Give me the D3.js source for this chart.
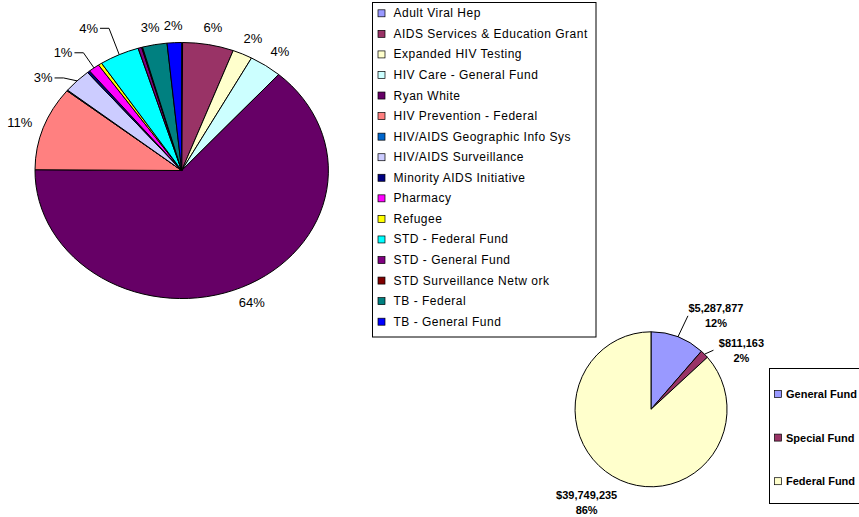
<!DOCTYPE html>
<html><head><meta charset="utf-8">
<script src="https://cdn.jsdelivr.net/npm/d3@7"></script>
<style>body{margin:0;background:#fff}svg{display:block}text{font-family:Arial,"Liberation Sans",sans-serif;fill:#000}</style>
</head><body><svg id="c" width="859" height="517"></svg>
<script>
// ---- data: program budget shares (percent of total) ----
const categories = [
  "Adult Viral Hep","AIDS Services & Education Grant","Expanded HIV Testing","HIV Care - General Fund",
  "Ryan White","HIV Prevention - Federal","HIV/AIDS Geographic Info Sys","HIV/AIDS Surveillance",
  "Minority AIDS Initiative","Pharmacy","Refugee","STD - Federal Fund","STD - General Fund",
  "STD Surveillance Netw ork","TB - Federal","TB - General Fund"
];
const shares = [0.1, 5.6, 2.2, 3.6, 63.6, 10.6, 0.1, 3.1, 0.3, 1.2, 0.4, 4.4, 0.4, 0.1, 2.7, 1.6];
const sliceColors = ["#9999FF","#993366","#FFFFCC","#CCFFFF","#660066","#FF8080","#0066CC","#CCCCFF",
  "#000080","#FF00FF","#FFFF00","#00FFFF","#800080","#800000","#008080","#0000FF"];

// ---- data: funding sources ----
const fundNames = ["General Fund","Special Fund","Federal Fund"];
const fundValues = [5287877, 811163, 39749235];
const fundPctLabels = ["12%","2%","86%"];
const fundColors = ["#9999FF","#993366","#FFFFCC"];

const svg = d3.select("#c");
svg.append("rect").attr("width",859).attr("height",517).attr("fill","#fff");

const pie = d3.pie().sort(null).value(d => d);
const unitArc = d3.arc().innerRadius(0).outerRadius(1);
const mid = d => (d.startAngle + d.endAngle) / 2;

// ---------- big pie ----------
const big = {cx:181.7, cy:170.5, rx:146.7, ry:128};
const bigArcs = pie(shares);
const total = d3.sum(shares);
svg.append("g")
  .attr("transform", `translate(${big.cx},${big.cy}) scale(${big.rx},${big.ry})`)
  .selectAll("path").data(bigArcs).join("path")
  .attr("d", unitArc)
  .attr("fill", (d,i) => sliceColors[i])
  .attr("stroke", "#000").attr("stroke-width", 1)
  .attr("vector-effect", "non-scaling-stroke")
  .attr("stroke-linejoin", "round");

const pctFmt = d3.format(".0%");
const leaderShift = {"HIV/AIDS Surveillance":[-16,9], "Pharmacy":[-16,-1.5], "STD - Federal Fund":[-20,-11]};
const gLab = svg.append("g");
bigArcs.forEach((d,i) => {
  const p = d.value / total;
  if (Math.round(p*100) < 1) return;
  const a = mid(d);
  let x = big.cx + (big.rx + 25) * Math.sin(a);
  let y = big.cy - (big.ry + 17) * Math.cos(a);
  const sh = leaderShift[categories[i]];
  if (sh) { x += sh[0]; y += sh[1]; }
  const t = gLab.append("text").attr("x", x).attr("y", y)
    .attr("text-anchor","middle").attr("dominant-baseline","central")
    .attr("font-size", 13).text(pctFmt(p));
  if (sh) {
    const hw = t.node().getComputedTextLength() / 2;
    const ex = big.cx + big.rx * Math.sin(a), ey = big.cy - big.ry * Math.cos(a);
    gLab.append("path")
      .attr("d", d3.line()([[x+hw+2, y], [x+hw+11, y], [ex, ey]]))
      .attr("fill","none").attr("stroke","#000").attr("stroke-width",1);
  }
});

// ---------- big legend ----------
const lg = svg.append("g");
lg.append("rect").attr("x",372.5).attr("y",2.5).attr("width",223.5).attr("height",334.5)
  .attr("fill","#fff").attr("stroke","#000").attr("stroke-width",1);
const rowY = d3.scalePoint().domain(categories).range([13.3, 321.7]);
categories.forEach((c,i) => {
  const y = rowY(c);
  lg.append("rect").attr("x",378).attr("y",y-3.5).attr("width",7).attr("height",7)
    .attr("fill",sliceColors[i]).attr("stroke","#000").attr("stroke-width",0.7);
  lg.append("text").attr("x",393.5).attr("y",y).attr("dominant-baseline","central")
    .attr("font-size",12).attr("letter-spacing",0.5).text(c);
});

// ---------- small pie ----------
const small = {cx:651, cy:409.3, rx:76, ry:77.5};
const fundArcs = pie(fundValues);
svg.append("g")
  .attr("transform", `translate(${small.cx},${small.cy}) scale(${small.rx},${small.ry})`)
  .selectAll("path").data(fundArcs).join("path")
  .attr("d", unitArc)
  .attr("fill", (d,i) => fundColors[i])
  .attr("stroke", "#000").attr("stroke-width", 1)
  .attr("vector-effect", "non-scaling-stroke")
  .attr("stroke-linejoin", "round");

const moneyFmt = d3.format("$,");
const fundLabelShift = [[38,-21,true],[37,-4,true],[-33.5,22,false]];
fundArcs.forEach((d,i) => {
  const a = mid(d);
  const ex = small.cx + small.rx * Math.sin(a), ey = small.cy - small.ry * Math.cos(a);
  const bx = ex + fundLabelShift[i][0], by = ey + fundLabelShift[i][1];
  svg.append("text").attr("x",bx).attr("y",by-7.5).attr("text-anchor","middle")
    .attr("dominant-baseline","central").attr("font-size",11).attr("font-weight","bold")
    .text(moneyFmt(d.value));
  svg.append("text").attr("x",bx).attr("y",by+7.5).attr("text-anchor","middle")
    .attr("dominant-baseline","central").attr("font-size",11).attr("font-weight","bold")
    .text(fundPctLabels[i]);
  if (fundLabelShift[i][2]) {
    svg.append("path").attr("d", d3.line()([[ex,ey],[bx-28,by]]))
      .attr("fill","none").attr("stroke","#000").attr("stroke-width",1);
  }
});

// ---------- small legend ----------
const sl = svg.append("g");
sl.append("rect").attr("x",769.5).attr("y",368.5).attr("width",110).attr("height",135)
  .attr("fill","#fff").attr("stroke","#000").attr("stroke-width",1);
const fundRowY = d3.scalePoint().domain(fundNames).range([394, 481.2]);
fundNames.forEach((n,i) => {
  const y = fundRowY(n);
  sl.append("rect").attr("x",774.5).attr("y",y-3.5).attr("width",7).attr("height",7)
    .attr("fill",fundColors[i]).attr("stroke","#000").attr("stroke-width",0.7);
  sl.append("text").attr("x",786).attr("y",y).attr("dominant-baseline","central")
    .attr("font-size",11).attr("font-weight","bold").text(n);
});
</script></body></html>
